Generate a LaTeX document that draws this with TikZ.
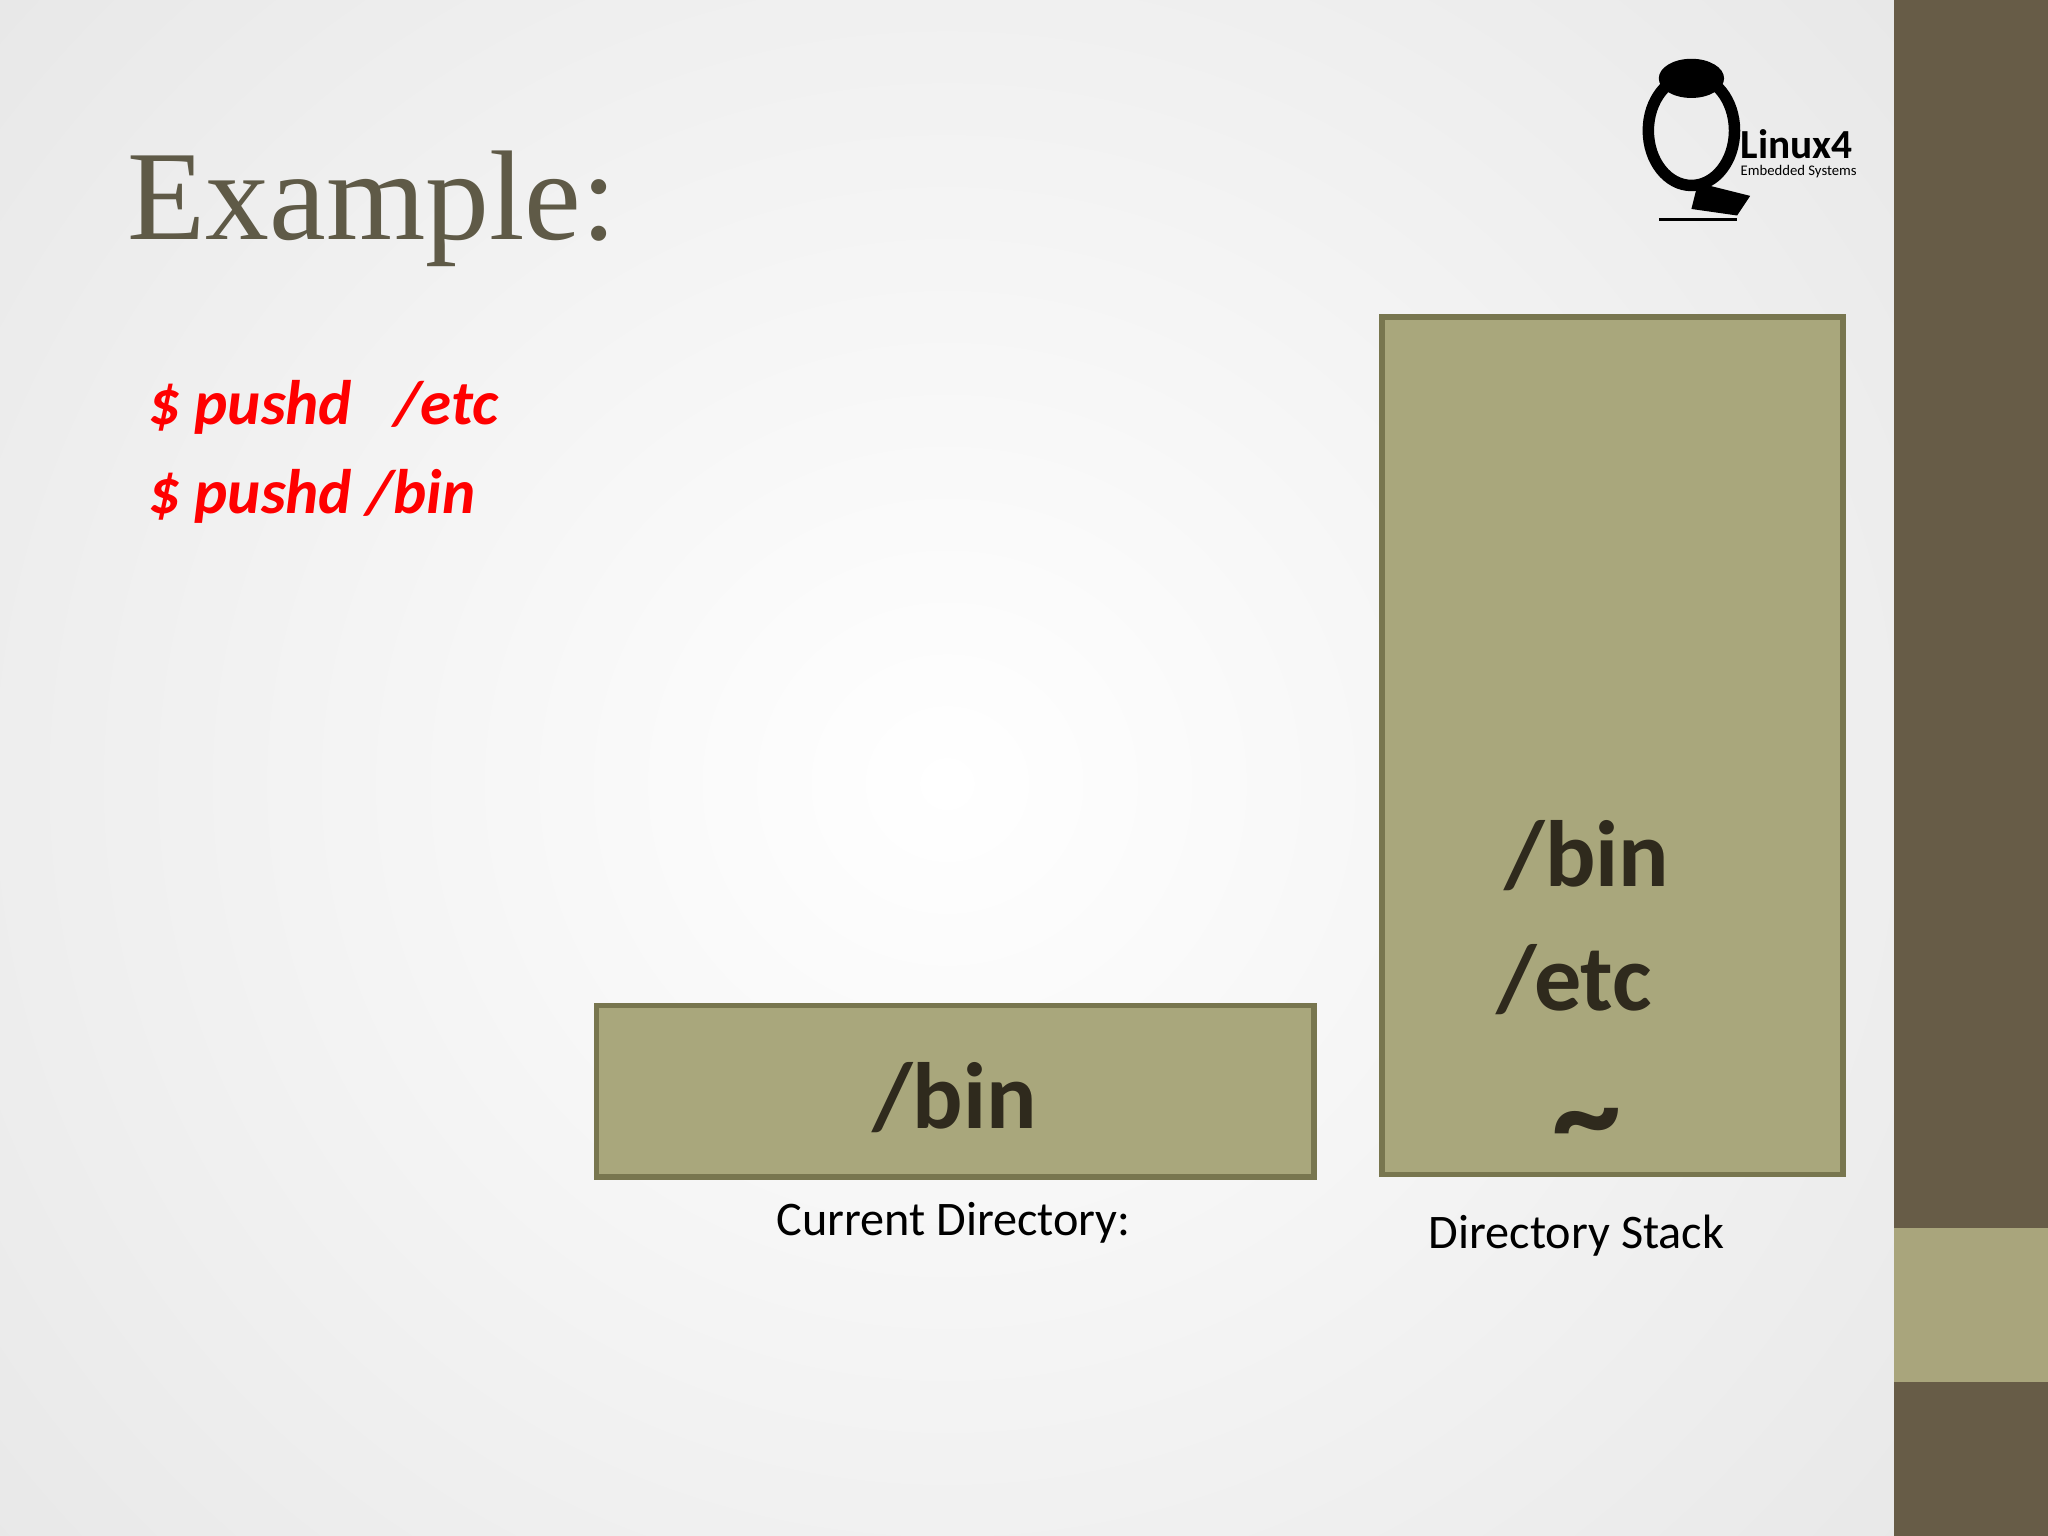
\documentclass[tikz,border=0pt]{standalone}
\usepackage{fontspec}
\setmainfont{Carlito}
\newfontfamily\titlefont{Liberation Serif}
\definecolor{olivefill}{HTML}{A9A77C}
\definecolor{oliveedge}{HTML}{78764F}
\definecolor{barbrown}{HTML}{675C47}
\definecolor{bartan}{HTML}{A9A57C}
\definecolor{titlecol}{HTML}{5F5A47}
\definecolor{boxtext}{HTML}{2F2A1D}
\definecolor{vign}{HTML}{D8D8D8}
\begin{document}
\begin{tikzpicture}[x=0.01cm,y=-0.01cm,
  stackbox/.style={draw=oliveedge,line width=1.2pt,fill=olivefill},
  boxlabel/.style={font=\bfseries\fontsize{20.5}{24}\selectfont,text=boxtext},
  cmd/.style={font=\bfseries\itshape\fontsize{13.7}{16}\selectfont,text=red,anchor=west,inner sep=0pt},
  caption/.style={font=\fontsize{10.5}{12}\selectfont,text=black}]
\useasboundingbox (0,0) rectangle (1568,1176);
\fill[vign] (0,0) rectangle (1450,1176);
\shade[inner color=white,outer color=vign] (-900,-950) rectangle (2350,2150);
\fill[barbrown] (1450,0) rectangle (1568,1176);
\fill[bartan] (1450,940) rectangle (1568,1058);
\node[font=\titlefont\fontsize{27.8}{30}\selectfont,text=titlecol,anchor=base west,inner sep=0pt] (title) at (97,183) {Example:};
\node[cmd] (c1) at (113,312) {\$ pushd\ \ \ /etc};
\node[cmd] (c2) at (113,380) {\$ pushd /bin};
\node[stackbox,minimum width=5.49cm,minimum height=1.31cm] (cur) at (731.5,835.5) {};
\node[boxlabel] (curtxt) at (731,840) {/bin};
\node[caption] (curcap) at (730,936) {Current Directory:};
\node[stackbox,minimum width=3.53cm,minimum height=6.56cm] (stk) at (1234.5,571) {};
\node[boxlabel] (s1) at (1215,655) {/bin};
\node[boxlabel] (s2) at (1205,750) {/etc};
\node[boxlabel] (s3) at (1215,868) {\fontsize{30}{30}\selectfont\textasciitilde};
\node[caption] (stkcap) at (1207,946) {Directory Stack};
% logo
\draw[line width=2.5pt] (1295,100) ellipse (33 and 42);
\fill (1295,60) ellipse (25 and 15);
\fill (1300,140) -- (1340,150) -- (1330,165) -- (1295,160) -- cycle;
\draw[thick] (1270,168) -- (1330,168);
\node[font=\bfseries\fontsize{9}{10}\selectfont,anchor=west,inner sep=0pt] (logo1) at (1332,110) {Linux4};
\node[font=\fontsize{3.2}{4}\selectfont,anchor=west,inner sep=0pt] (logo2) at (1332,131) {Embedded Systems};
\end{tikzpicture}
\end{document}
